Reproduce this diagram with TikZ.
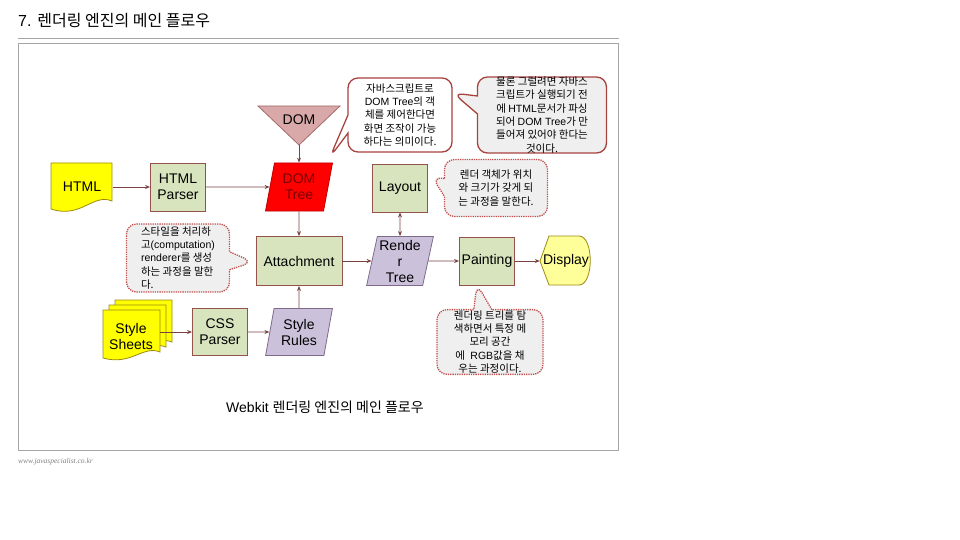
\documentclass[tikz,border=0pt]{standalone}
\usepackage{fontspec}
\setmainfont{Liberation Sans}
\newfontfamily\krfont{Noto Sans CJK KR}
\newfontfamily\urlfont{Liberation Serif}
\usetikzlibrary{arrows.meta,shapes.geometric,shapes.callouts}
\definecolor{EdgeBrown}{HTML}{95524C}
\definecolor{ProcGreen}{HTML}{D7E4BD}
\definecolor{DataPurple}{HTML}{CCC1DA}
\definecolor{DataEdge}{HTML}{7F6A8C}
\definecolor{DocYellow}{HTML}{FFFF00}
\definecolor{DocEdge}{HTML}{9C8A10}
\definecolor{ShowYellow}{HTML}{FFFF99}
\definecolor{DomPink}{HTML}{D9A9A9}
\definecolor{DomEdge}{HTML}{A56A6A}
\definecolor{TreeRed}{HTML}{FF0000}
\definecolor{TreeText}{HTML}{7A0000}
\definecolor{ArrowRed}{HTML}{7B4242}
\definecolor{NoteRed}{HTML}{A8423F}
\definecolor{NoteDot}{HTML}{C0504D}
\definecolor{NoteGray}{HTML}{EFEFEF}
\definecolor{FrameGray}{HTML}{A6A6A6}
\newcommand{\kr}[1]{{\krfont #1}}

\begin{document}
\begin{tikzpicture}[
        x=1pt, y=-1pt,
        font=\fontsize{14}{16}\selectfont,
        proc/.style={
            draw=EdgeBrown,
            fill=ProcGreen,
            line width=0.8pt,
            minimum width=55pt,
            minimum height=48pt,
            align=center,
            inner sep=1pt
        },
        data/.style={
            trapezium,
            trapezium left angle=77,
            trapezium right angle=103,
            trapezium stretches=true,
            draw=DataEdge,
            fill=DataPurple,
            line width=0.8pt,
            minimum width=67pt,
            minimum height=48pt,
            align=center,
            inner sep=0pt
        },
        doc/.style={draw=DocEdge, fill=DocYellow, line width=0.8pt},
        plain/.style={align=center, inner sep=0pt},
        link/.style={-{Stealth[length=5pt,width=4pt]}, line width=0.8pt, draw=ArrowRed},
        note/.style={
            rectangle callout,
            rounded corners=10pt,
            callout pointer width=18pt,
            draw=NoteRed,
            line width=1.3pt,
            fill=white,
            align=center,
            inner sep=1pt,
            font=\fontsize{10.5}{13.3}\selectfont
        },
        dotnote/.style={note, draw=NoteDot, densely dotted, fill=NoteGray}
    ]
        \useasboundingbox (0,0) rectangle (960,540);

        % page title and frame
        \node[anchor=west, inner sep=0pt, font=\fontsize{16}{18}\selectfont] (title) at (18,21)
            {7. \kr{렌더링 엔진의 메인 플로우}};
        \draw[FrameGray, line width=0.9pt] (18,38) -- (619,38);
        \draw[FrameGray, line width=0.9pt] (18,43) rectangle (618,450);

        % document shapes
        \draw[doc, shift={(51,163)}] (0,0) -- (61,0) -- (61,38)
            .. controls (42,30) and (30,56) .. (0,46) -- cycle;
        \draw[doc, shift={(115,300)}] (0,0) -- (57,0) -- (57,42)
            .. controls (40,35) and (28,56) .. (0,48) -- cycle;
        \draw[doc, shift={(109,305)}] (0,0) -- (57,0) -- (57,42)
            .. controls (40,35) and (28,56) .. (0,48) -- cycle;
        \draw[doc, shift={(103,310)}] (0,0) -- (57,0) -- (57,42)
            .. controls (40,35) and (28,56) .. (0,48) -- cycle;
        \draw[draw=DomEdge, fill=DomPink, line width=0.8pt] (258,106) -- (340,106) -- (299,145) -- cycle;
        \draw[draw=DocEdge, fill=ShowYellow, line width=0.8pt] (540,261) -- (549,236) -- (579,236)
            .. controls (594,236) and (594,285) .. (579,285) -- (549,285) -- cycle;

        \node[plain, minimum width=61pt, minimum height=46pt] (html) at (82,187) {HTML};
        \node[proc] (htmlp) at (178,187) {HTML\\Parser};
        \node[plain] (dom) at (299,120) {DOM};
        \coordinate (domtip) at (299,145);
        \node[data, fill=TreeRed, draw=TreeRed!75!black, text=TreeText] (domtree) at (299,187) {DOM\\Tree};
        \node[proc, minimum width=86pt, minimum height=49pt] (attach) at (299,261) {Attachment};
        \node[data, minimum height=49pt] (rtree) at (400,261) {Rende\\r\\Tree};
        \node[proc] (layout) at (400,188) {Layout};
        \node[proc] (paint) at (487,261) {Painting};
        \node[plain, minimum width=52pt, minimum height=49pt] (display) at (566,261) {Display};
        \node[plain, minimum width=57pt, minimum height=40pt] (sheets) at (131,336) {Style\\Sheets};
        \node[proc, minimum height=47pt] (cssp) at (220,332) {CSS\\Parser};
        \node[data, minimum height=47pt] (rules) at (299,332) {Style\\Rules};

        \draw[link] (html) -- (htmlp);
        \draw[link] (htmlp) -- (domtree);
        \draw[link] (domtip) -- (domtree);
        \draw[link] (domtree) -- (attach);
        \draw[link] (rules) -- (attach);
        \draw[link] (sheets.east |- cssp.west) -- (cssp.west);
        \draw[link] (cssp) -- (rules);
        \draw[link] (attach) -- (rtree);
        \draw[link, {Stealth[length=5pt,width=4pt]}-{Stealth[length=5pt,width=4pt]}] (rtree) -- (layout);
        \draw[link] (rtree) -- (paint);
        \draw[link] (paint) -- (display);

        % notes
        \node[note, minimum width=104pt, minimum height=74pt, callout absolute pointer={(330,157)}] (jsnote) at (400,115)
            {\kr{자바스크립트로}\\DOM Tree\kr{의 객}\\\kr{체를 제어한다면}\\\kr{화면 조작이 가능}\\\kr{하다는 의미이다.}};
        \node[note, fill=NoteGray, minimum width=129pt, minimum height=76pt, inner sep=0pt,
              callout absolute pointer={(453,93)}] (parsenote) at (542,115)
            {\kr{물론 그럴려면 자바스}\\\kr{크립트가 실행되기 전}\\\kr{에 }HTML\kr{문서가 파싱}\\\kr{되어 }DOM Tree\kr{가 만}\\\kr{들어져 있어야 한다는}\\\kr{것이다.}};
        \node[dotnote, minimum width=103pt, minimum height=57pt, callout absolute pointer={(432,177)}] (layoutnote) at (496,188)
            {\kr{렌더 객체가 위치}\\\kr{와 크기가 갖게 되}\\\kr{는 과정을 말한다.}};
        \node[dotnote, align=left, minimum width=103pt, minimum height=68pt, callout absolute pointer={(253,262)}] (stylenote) at (178,258)
            {\kr{스타일을 처리하}\\\kr{고}(computation)\\renderer\kr{를 생성}\\\kr{하는 과정을 말한}\\\kr{다.}};
        \node[dotnote, minimum width=106pt, minimum height=60pt, callout absolute pointer={(477,284)}] (paintnote) at (490,342)
            {\kr{렌더링 트리를 탐}\\\kr{색하면서 특정 메}\\\kr{모리 공간}\\\kr{에 }\ RGB\kr{값을 채}\\\kr{우는 과정이다.}};

        \node[plain] (caption) at (325,407) {Webkit \kr{렌더링 엔진의 메인 플로우}};
        \node[anchor=west, inner sep=0pt, text=gray, font=\urlfont\itshape\fontsize{7.5}{9}\selectfont] (site) at (18,462)
            {www.javaspecialist.co.kr};
    \end{tikzpicture}
\end{document}
